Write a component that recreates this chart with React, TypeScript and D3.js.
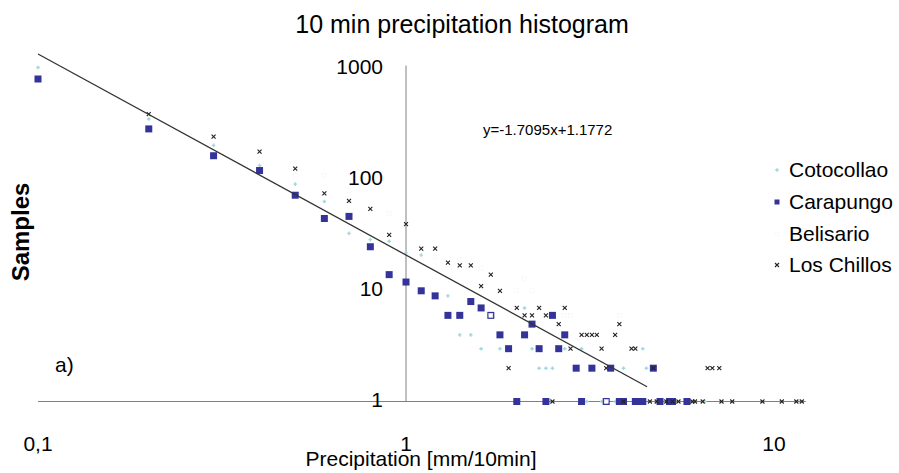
import React from 'react';
import * as d3 from 'd3';

// bins [mm/10min] and sample counts
const cotoX = [0.1, 0.2, 0.3, 0.4, 0.5, 0.6, 0.7, 0.8, 0.9, 1.0, 1.1, 1.3, 1.4, 1.5, 1.6, 1.8, 2.1, 2.2, 2.3, 2.4, 2.5, 2.7, 3.0, 3.1, 3.4, 3.7, 3.9, 4.4, 4.5, 6.5];
const cotoY = [1040, 356, 206, 135, 92, 64, 33, 29, 28, 22, 21, 9, 4, 4, 3, 3, 7, 3, 2, 2, 2, 3, 3, 1, 1, 1, 2, 3, 2, 1];

const carapX = [0.1, 0.2, 0.3, 0.4, 0.5, 0.6, 0.7, 0.8, 0.9, 1.0, 1.1, 1.2, 1.3, 1.4, 1.5, 1.6, 1.7, 1.8, 1.9, 2.0, 2.1, 2.2, 2.3, 2.4, 2.5, 2.6, 2.7, 2.9, 3.0, 3.2, 3.5, 3.6, 3.8, 3.9, 4.2, 4.3, 4.4, 4.7, 4.9, 5.2, 5.3, 5.8];
const carapY = [819, 290, 166, 122, 73, 45, 47, 25, 14, 12, 10, 9, 6, 6, 8, 7, 6, 4, 3, 1, 4, 5, 3, 1, 6, 3, 4, 2, 1, 2, 1, 2, 1, 1, 1, 1, 1, 2, 1, 1, 1, 1];

const belisX = [0.5, 0.6, 0.7, 0.9, 1.2, 1.4, 1.6, 1.7, 2.0, 2.1, 2.2, 2.7, 2.8, 3.5, 3.8];
const belisY = [110, 110, 80, 50, 20, 19, 16, 6, 10, 13, 10, 6, 6, 1, 6];

const chillX = [0.2, 0.3, 0.4, 0.5, 0.6, 0.7, 0.8, 0.9, 1.0, 1.1, 1.2, 1.3, 1.4, 1.5, 1.6, 1.7, 1.8, 1.9, 2.0, 2.1, 2.2, 2.3, 2.4, 2.5, 2.6, 2.7, 2.8, 3.0, 3.1, 3.2, 3.3, 3.4, 3.5, 3.7, 3.8, 3.9, 4.1, 4.2, 4.6, 4.7, 4.8, 5.1, 5.3, 5.5, 6.0, 6.1, 6.4, 6.6, 6.8, 7.1, 7.2, 7.7, 9.3, 10.5, 11.5, 11.9];
const chillY = [395, 247, 181, 127, 76, 65, 55, 32, 40, 24, 24, 18, 17, 17, 11, 14, 10, 2, 7, 6, 6, 7, 6, 1, 5, 7, 3, 4, 4, 4, 4, 3, 2, 4, 5, 1, 3, 3, 1, 2, 1, 1, 1, 1, 1, 1, 1, 2, 2, 2, 1, 1, 1, 1, 1, 1];

// power-law trend as drawn (log10 y = a + b log10 x)
const trendA = 1.323;
const trendB = -1.816;
const trendRange = [0.1, 4.52];
const equation = 'y=-1.7095x+1.1772';

const xTicks = [0.1, 1, 10];
const xTickLabels = ['0,1', '1', '10'];
const yTicks = [1, 10, 100, 1000];
const yTickLabels = ['1', '10', '100', '1000'];

const seriesNames = ['Cotocollao', 'Carapungo', 'Belisario', 'Los Chillos'];

const font = "'Liberation Sans', Arial, sans-serif";

const App = () => {
  const width = 899;
  const height = 473;

  const x = d3.scaleLog().domain([0.1, 10]).range([38, 774]);
  const y = d3.scaleLog().domain([1, 1000]).range([401.5, 69.4]);

  const zip = (xs: number[], ys: number[]) => xs.map((v, i) => ({ x: v, y: ys[i] }));
  const coto = zip(cotoX, cotoY);
  const carap = zip(carapX, carapY);
  const belis = zip(belisX, belisY);
  const chill = zip(chillX, chillY);

  const trendPts = trendRange.map((v) => ({ x: v, y: Math.pow(10, trendA + trendB * Math.log10(v)) }));
  const trendLine = d3
    .line<{ x: number; y: number }>()
    .x((d) => x(d.x))
    .y((d) => y(d.y));

  const xEnd = x(12.2);

  const cotoMark = (cx: number, cy: number, k: string) => (
    <path key={k} d={`M${cx - 1.8},${cy}L${cx + 1.8},${cy}M${cx},${cy - 1.8}L${cx},${cy + 1.8}`} stroke="#9fd8de" strokeWidth={1.4} />
  );
  const carapMark = (cx: number, cy: number, k: string, s = 7) => (
    <rect key={k} x={cx - s / 2} y={cy - s / 2} width={s} height={s} fill="#333399" />
  );
  // Belisario markers are white, barely visible on the background
  const belisMark = (cx: number, cy: number, k: string) => (
    <rect key={k} x={cx - 2} y={cy - 2} width={4} height={4} fill="#ffffff" stroke="#f3f3f7" strokeWidth={0.5} />
  );
  const chillMark = (cx: number, cy: number, k: string) => (
    <path key={k} d={`M${cx - 2},${cy - 2}L${cx + 2},${cy + 2}M${cx - 2},${cy + 2}L${cx + 2},${cy - 2}`} stroke="#222" strokeWidth={1.1} />
  );

  const legendY = [177, 209, 241, 272];

  return (
    <div style={{ position: 'absolute', left: 0, top: 0 }}>
      <svg width={width} height={height} style={{ display: 'block', background: '#fff' }}>
        <text x={462} y={33} textAnchor="middle" fontFamily={font} fontSize={25} fill="#000">
          10 min precipitation histogram
        </text>

        {/* axes */}
        <line x1={x(1)} x2={x(1)} y1={y(1000) - 4} y2={y(1)} stroke="#c0c0c0" strokeWidth={2} />
        <line x1={x(0.1)} x2={xEnd} y1={y(1)} y2={y(1)} stroke="#808080" strokeWidth={1} />

        {yTicks.map((t, i) => (
          <text key={t} x={383} y={y(t) + 5} textAnchor="end" fontFamily={font} fontSize={21} fill="#000">
            {yTickLabels[i]}
          </text>
        ))}
        {xTicks.map((t, i) => (
          <text key={t} x={x(t)} y={451} textAnchor="middle" fontFamily={font} fontSize={21} fill="#000">
            {xTickLabels[i]}
          </text>
        ))}

        <text x={421} y={466} textAnchor="middle" fontFamily={font} fontSize={21} fill="#000">
          Precipitation [mm/10min]
        </text>
        <text transform="translate(29,232) rotate(-90)" textAnchor="middle" fontFamily={font} fontSize={24} fontWeight="bold" fill="#000">
          Samples
        </text>
        <text x={55} y={372} fontFamily={font} fontSize={21} fill="#000">
          a)
        </text>

        {/* points */}
        {coto.map((d, i) => cotoMark(x(d.x), y(d.y), 'c' + i))}
        {carap.map((d, i) => carapMark(x(d.x), y(d.y), 'p' + i))}
        {belis.map((d, i) => belisMark(x(d.x), y(d.y), 'b' + i))}
        {chill.map((d, i) => chillMark(x(d.x), y(d.y), 'l' + i))}

        <path d={trendLine(trendPts) || ''} fill="none" stroke="#333" strokeWidth={1.3} />
        <text x={483} y={135} fontFamily={font} fontSize={15} fill="#000">
          {equation}
        </text>

        {/* legend */}
        {cotoMark(777, legendY[0] - 7, 'lg0')}
        {carapMark(777, legendY[1] - 7, 'lg1', 5)}
        {belisMark(777, legendY[2] - 7, 'lg2')}
        {chillMark(777, legendY[3] - 7, 'lg3')}
        {seriesNames.map((n, i) => (
          <text key={n} x={789} y={legendY[i]} fontFamily={font} fontSize={21} fill="#000">
            {n}
          </text>
        ))}
      </svg>
    </div>
  );
};

export default App;
